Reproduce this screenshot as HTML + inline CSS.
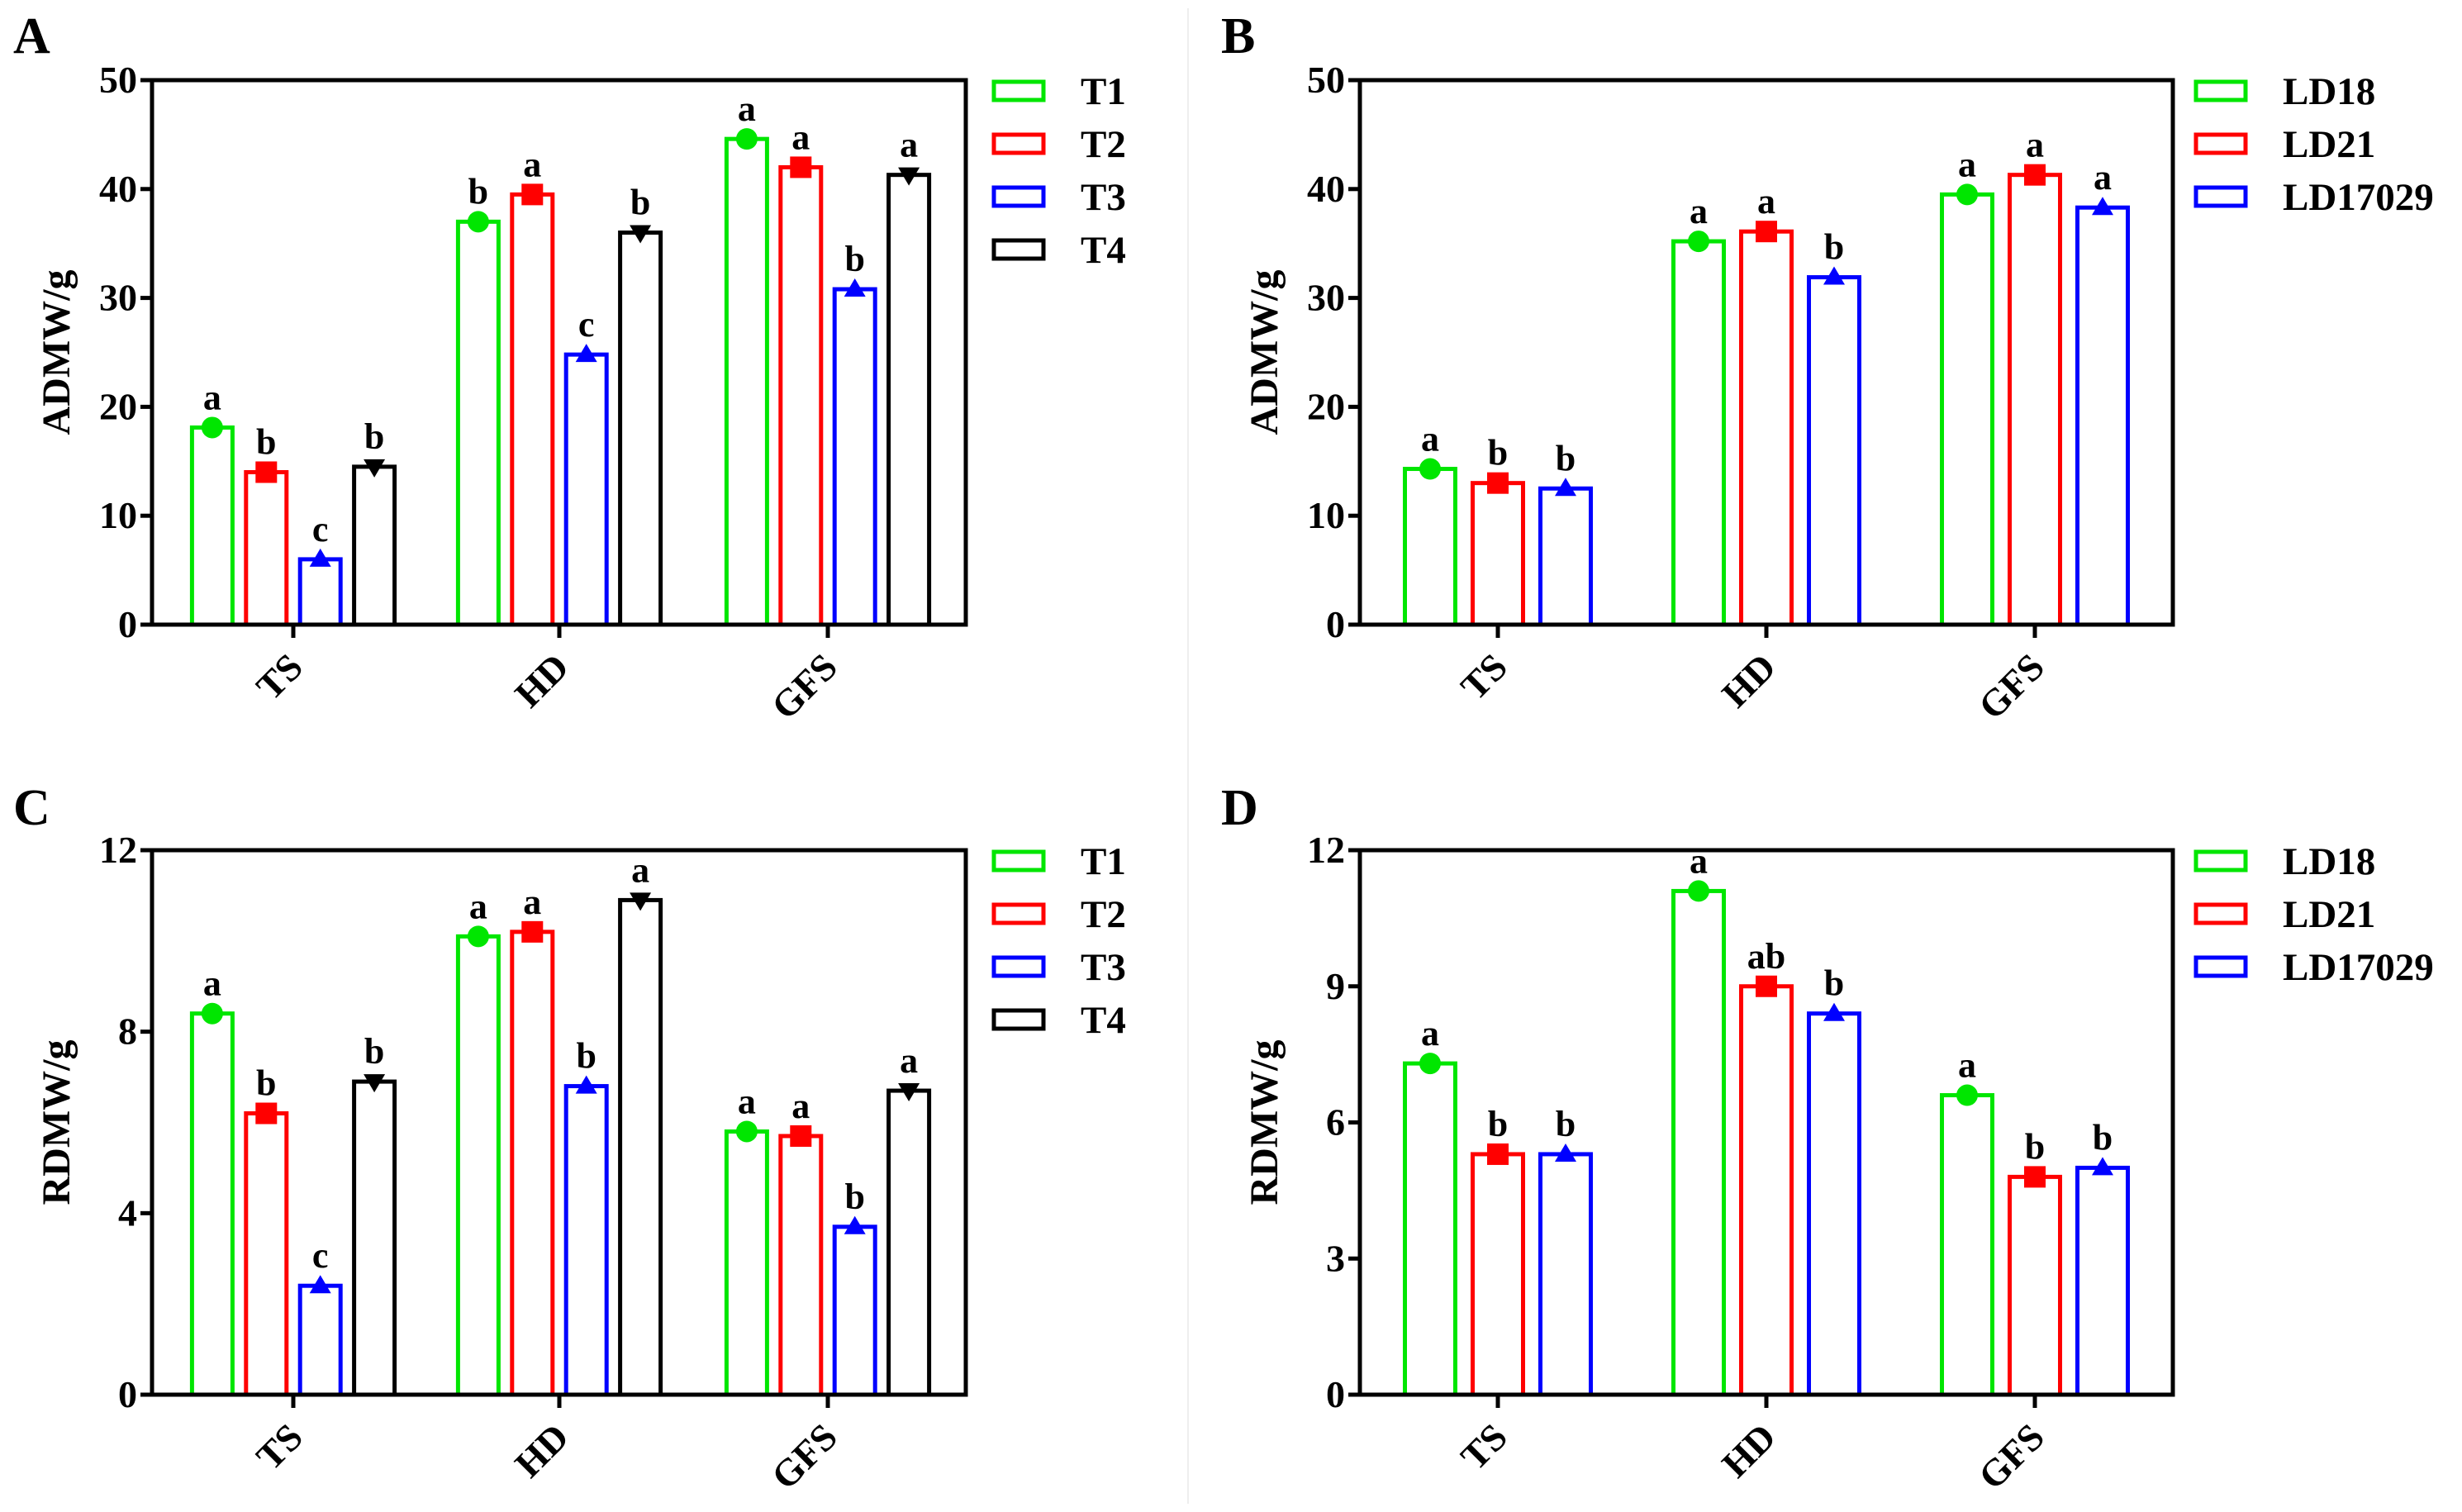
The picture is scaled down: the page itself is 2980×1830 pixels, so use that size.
<!DOCTYPE html>
<html><head><meta charset="utf-8"><style>
html,body{margin:0;padding:0;background:#fff;}
svg{display:block;font-family:"Liberation Serif",serif;font-weight:bold;}
</style></head><body>
<svg id="fig" width="2980" height="1830" viewBox="0 0 2980 1830" xmlns="http://www.w3.org/2000/svg">
<rect x="0" y="0" width="2980" height="1830" fill="#fff"/>
<line x1="1438" y1="10" x2="1438" y2="1820" stroke="#eee" stroke-width="2"/>
</svg>
<script>
const categories = ["TS","HD","GFS"];
const seriesA_names = ["T1","T2","T3","T4"];
const seriesB_names = ["LD18","LD21","LD17029"];
const A_T1=[18.1,37.0,44.6], A_T2=[14.0,39.5,42.0], A_T3=[6.0,24.8,30.8], A_T4=[14.5,36.0,41.3];
const A_letters=[["a","b","c","b"],["b","a","c","b"],["a","a","b","a"]];
const B_LD18=[14.3,35.2,39.5], B_LD21=[13.0,36.1,41.3], B_LD17029=[12.5,31.9,38.3];
const B_letters=[["a","b","b"],["a","a","b"],["a","a","a"]];
const C_T1=[8.4,10.1,5.8], C_T2=[6.2,10.2,5.7], C_T3=[2.4,6.8,3.7], C_T4=[6.9,10.9,6.7];
const C_letters=[["a","b","c","b"],["a","a","b","a"],["a","a","b","a"]];
const D_LD18=[7.3,11.1,6.6], D_LD21=[5.3,9.0,4.8], D_LD17029=[5.3,8.4,5.0];
const D_letters=[["a","b","b"],["a","ab","b"],["a","b","b"]];
const ticksADMW=[0,10,20,30,40,50];
const ticksRDMW_C=[0,4,8,12];
const ticksRDMW_D=[0,3,6,9,12];

const NS="http://www.w3.org/2000/svg";
const svg=document.getElementById("fig");
function mk(tag,attrs,parent,text){const e=document.createElementNS(NS,tag);for(const k in attrs)e.setAttribute(k,attrs[k]);if(text!==undefined)e.textContent=text;(parent||svg).appendChild(e);return e;}
const colors=["#00e600","#ff0000","#0000ff","#000000"];
const markers=["circle","square","up","down"];

function marker(g,type,cx,cy,col){
  let e;
  if(type==="circle") e=mk("circle",{cx:cx,cy:cy,r:13,fill:col},g);
  else if(type==="square") e=mk("rect",{x:cx-13,y:cy-13,width:26,height:26,fill:col},g);
  else if(type==="up") e=mk("polygon",{points:`${cx-13},${cy+9} ${cx+13},${cy+9} ${cx},${cy-13}`,fill:col},g);
  else e=mk("polygon",{points:`${cx-13},${cy-9} ${cx+13},${cy-9} ${cx},${cy+13}`,fill:col},g);
  
  
}

function panel(o){
  const g=mk("g",{});
  
  
  const {L,R,T,B,max}=o;
  const y=v=>B-(v/max)*(B-T);
  const groupX=[o.gx[0],o.gx[1],o.gx[2]];
  const n=o.series.length;
  for(let c=0;c<categories.length;c++){
    for(let s=0;s<n;s++){
      const cx=groupX[c]+(s-(n-1)/2)*o.pitch;
      const v=o.series[s][c];
      const bar=mk("rect",{x:cx-o.bw/2,y:y(v),width:o.bw,height:B-y(v),fill:"none",stroke:colors[s],"stroke-width":5},g);
      
      
      marker(g,markers[s],cx,y(v),colors[s]);
      const lt=mk("text",{x:cx,y:y(v)-22,"text-anchor":"middle","font-size":44,fill:"#000"},g,o.letters[c][s]);
      
      
    }
  }
  const fr=mk("rect",{x:L,y:T,width:R-L,height:B-T,fill:"none",stroke:"#000","stroke-width":5},g);
  
  
  for(const t of o.ticks){
    mk("line",{x1:L-14,x2:L,y1:y(t),y2:y(t),stroke:"#000","stroke-width":5},g);
    const tl=mk("text",{x:L-18,y:y(t)+15,"text-anchor":"end","font-size":46,fill:"#000"},g,String(t));
    
    
  }
  for(let c=0;c<categories.length;c++){
    mk("line",{x1:groupX[c],x2:groupX[c],y1:B,y2:B+16,stroke:"#000","stroke-width":5},g);
    const xt=mk("text",{x:groupX[c]+14,y:B+54,"text-anchor":"end","font-size":46,fill:"#000",transform:`rotate(-45 ${groupX[c]+14} ${B+54})`},g,categories[c]);
    
    
  }
  const yt=mk("text",{x:L-100,y:(T+B)/2,"text-anchor":"middle","font-size":48,fill:"#000",transform:`rotate(-90 ${L-100} ${(T+B)/2})`},g,o.ytitle);
  
  
  const pl=mk("text",{x:o.lx,y:o.ly,"font-size":62,fill:"#000"},g,o.id);
  
  
  for(let s=0;s<n;s++){
    const ly=o.legY+s*64;
    const lg=mk("g",{},g);
    
    
    mk("rect",{x:o.legX,y:ly-11,width:60,height:22,fill:"none",stroke:colors[s],"stroke-width":5},lg);
    mk("text",{x:o.legX+105,y:ly+16,"font-size":47,fill:"#000"},lg,o.names[s]);
  }
}

panel({id:"A",L:184,R:1169,T:97,B:756,max:50,ticks:ticksADMW,gx:[355,677,1002],pitch:65.4,bw:49,
  series:[A_T1,A_T2,A_T3,A_T4],names:seriesA_names,letters:A_letters,ytitle:"ADMW/g",lx:16,ly:64,legX:1203,legY:110});
panel({id:"B",L:1646,R:2630,T:97,B:756,max:50,ticks:ticksADMW,gx:[1813,2138,2463],pitch:82,bw:61,
  series:[B_LD18,B_LD21,B_LD17029],names:seriesB_names,letters:B_letters,ytitle:"ADMW/g",lx:1478,ly:64,legX:2658,legY:110});
panel({id:"C",L:184,R:1169,T:1029,B:1688,max:12,ticks:ticksRDMW_C,gx:[355,677,1002],pitch:65.4,bw:49,
  series:[C_T1,C_T2,C_T3,C_T4],names:seriesA_names,letters:C_letters,ytitle:"RDMW/g",lx:16,ly:998,legX:1203,legY:1042});
panel({id:"D",L:1646,R:2630,T:1029,B:1688,max:12,ticks:ticksRDMW_D,gx:[1813,2138,2463],pitch:82,bw:61,
  series:[D_LD18,D_LD21,D_LD17029],names:seriesB_names,letters:D_letters,ytitle:"RDMW/g",lx:1478,ly:998,legX:2658,legY:1042});
</script>
</body></html>
